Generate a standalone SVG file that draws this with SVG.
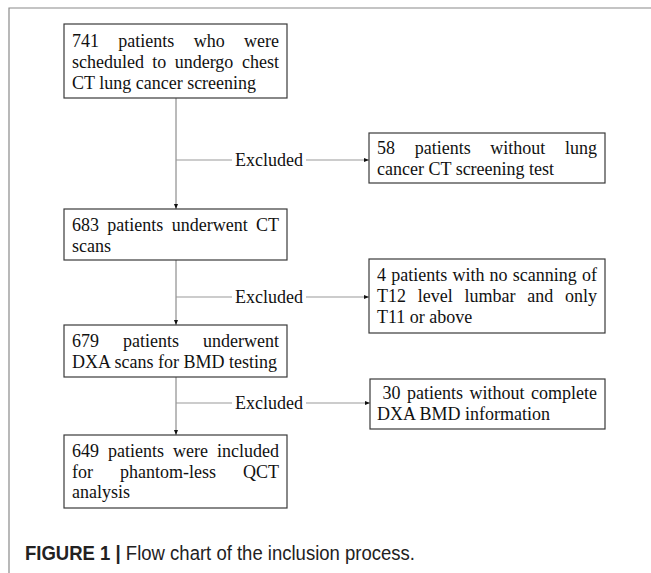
<svg xmlns="http://www.w3.org/2000/svg" width="651" height="573" viewBox="0 0 651 573">
<style>
.bg{fill:#ffffff}
.frame{stroke:#8a8a8a;stroke-width:1.2;fill:none}
.box{fill:#ffffff;stroke:#3a3a3a;stroke-width:1.2}
.t{font-family:"Liberation Serif","Times New Roman",serif;font-size:18px;fill:#111}
.conn{stroke:#777;stroke-width:1;fill:none}
.br{stroke:#999;stroke-width:1;fill:none}
.cap{font-family:"Liberation Sans",Arial,sans-serif;font-size:19.5px;fill:#222}
</style>
<defs>
<marker id="ah" viewBox="0 0 10 10" refX="10" refY="5" markerWidth="5" markerHeight="5" orient="auto" markerUnits="userSpaceOnUse">
<path d="M0,1 L10,5 L0,9 Z" fill="#111"/>
</marker>
</defs>
<rect class="bg" x="0" y="0" width="651" height="573"/>
<path class="frame" d="M9,573 V8 H651"/>

<g id="connectors">
<line class="conn" x1="176" y1="98" x2="176" y2="209" marker-end="url(#ah)"/>
<line class="conn" x1="176" y1="260" x2="176" y2="325" marker-end="url(#ah)"/>
<line class="conn" x1="176" y1="377" x2="176" y2="435" marker-end="url(#ah)"/>
<line class="br" x1="176" y1="160" x2="232" y2="160"/>
<line class="br" x1="306" y1="160" x2="369" y2="160" marker-end="url(#ah)"/>
<line class="br" x1="176" y1="297" x2="232" y2="297"/>
<line class="br" x1="306" y1="297" x2="369" y2="297" marker-end="url(#ah)"/>
<line class="br" x1="176" y1="403" x2="232" y2="403"/>
<line class="br" x1="306" y1="403" x2="370" y2="403" marker-end="url(#ah)"/>
<text class="t" x="269" y="166" text-anchor="middle">Excluded</text>
<text class="t" x="269" y="303" text-anchor="middle">Excluded</text>
<text class="t" x="269" y="409" text-anchor="middle">Excluded</text>
</g>

<g id="n1">
<rect class="box" x="64" y="24" width="223" height="74"/>
<text class="t" y="47"><tspan x="72">741</tspan><tspan x="118.3">patients</tspan><tspan x="193.7">who</tspan><tspan x="279" text-anchor="end">were</tspan></text>
<text class="t" y="68"><tspan x="72">scheduled</tspan><tspan x="152.3">to</tspan><tspan x="174.7">undergo</tspan><tspan x="279" text-anchor="end">chest</tspan></text>
<text class="t" x="72" y="89">CT lung cancer screening</text>
</g>

<g id="n2">
<rect class="box" x="64" y="209" width="223" height="51"/>
<text class="t" y="231"><tspan x="72">683</tspan><tspan x="107.3">patients</tspan><tspan x="171.7">underwent</tspan><tspan x="279" text-anchor="end">CT</tspan></text>
<text class="t" x="72" y="252">scans</text>
</g>

<g id="n3">
<rect class="box" x="64" y="325" width="223" height="52"/>
<text class="t" y="347"><tspan x="72">679</tspan><tspan x="123">patients</tspan><tspan x="279" text-anchor="end">underwent</tspan></text>
<text class="t" x="72" y="368">DXA scans for BMD testing</text>
</g>

<g id="n4">
<rect class="box" x="64" y="435" width="223" height="73"/>
<text class="t" y="457"><tspan x="72">649</tspan><tspan x="108">patients</tspan><tspan x="173">were</tspan><tspan x="279" text-anchor="end">included</tspan></text>
<text class="t" y="478"><tspan x="72">for</tspan><tspan x="120">phantom-less</tspan><tspan x="279" text-anchor="end">QCT</tspan></text>
<text class="t" x="72" y="498">analysis</text>
</g>

<g id="r1">
<rect class="box" x="369" y="133" width="236" height="50"/>
<text class="t" y="154"><tspan x="377">58</tspan><tspan x="414.7">patients</tspan><tspan x="490.3">without</tspan><tspan x="597" text-anchor="end">lung</tspan></text>
<text class="t" x="377" y="175">cancer CT screening test</text>
</g>

<g id="r2">
<rect class="box" x="369" y="259" width="236" height="74"/>
<text class="t" y="281"><tspan x="377">4</tspan><tspan x="391.2">patients</tspan><tspan x="452.4">with</tspan><tspan x="489.6">no</tspan><tspan x="512.8">scanning</tspan><tspan x="597" text-anchor="end">of</tspan></text>
<text class="t" y="302"><tspan x="377">T12</tspan><tspan x="417.8">level</tspan><tspan x="464.5">lumbar</tspan><tspan x="527.3">and</tspan><tspan x="597" text-anchor="end">only</tspan></text>
<text class="t" x="377" y="323">T11 or above</text>
</g>

<g id="r3">
<rect class="box" x="370" y="379" width="235" height="50"/>
<text class="t" y="399"><tspan x="382.5">30</tspan><tspan x="407">patients</tspan><tspan x="469.5">without</tspan><tspan x="597" text-anchor="end">complete</tspan></text>
<text class="t" x="377" y="420">DXA BMD information</text>
</g>

<text class="cap" x="25" y="560" textLength="390" lengthAdjust="spacingAndGlyphs"><tspan font-weight="bold">FIGURE 1 |</tspan> Flow chart of the inclusion process.</text>
</svg>
